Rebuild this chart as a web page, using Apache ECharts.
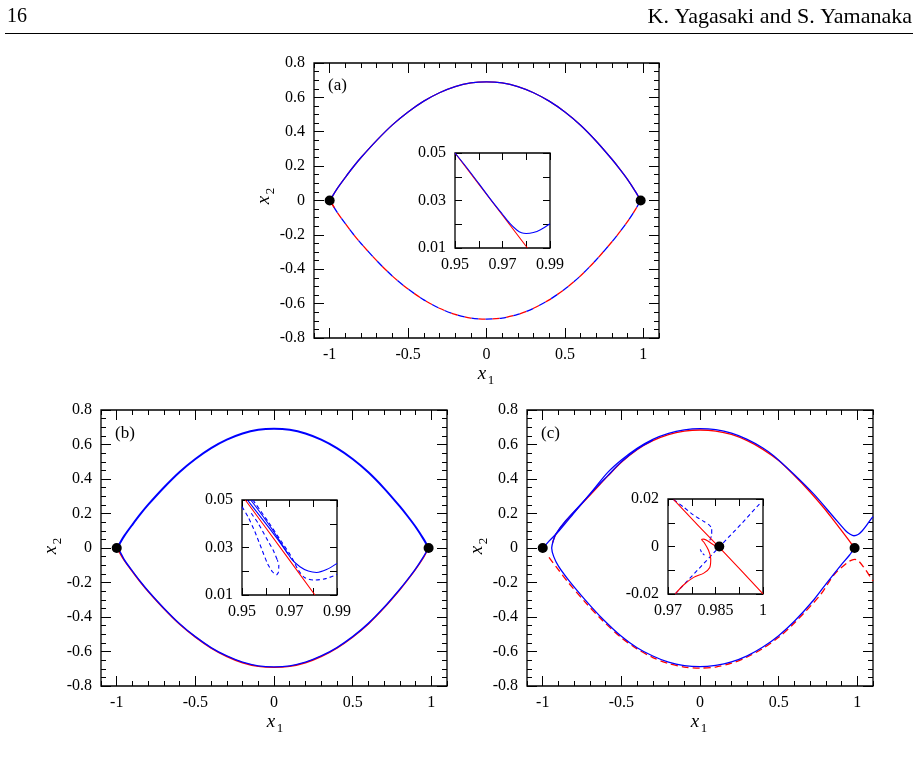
<!DOCTYPE html>
<html>
<head>
<meta charset="utf-8">
<title>manifolds</title>
<script src="https://cdn.jsdelivr.net/npm/echarts@6/dist/echarts.min.js"></script>
<style>
html, body { margin: 0; padding: 0; background: #fff; }
#chart { width: 920px; height: 771px; }
</style>
</head>
<body>
<div id="chart"></div>
<script>
// ---------- values ----------
// panel (a)
const aUpper = [[-0.995,0],[-0.98,0.028],[-0.95,0.072],[-0.9,0.135],[-0.85,0.195],[-0.8,0.25],[-0.7,0.35],[-0.6,0.44],[-0.5,0.515],[-0.4,0.578],[-0.3,0.627],[-0.2,0.663],[-0.1,0.684],[0,0.69],[0.1,0.684],[0.2,0.663],[0.3,0.627],[0.4,0.578],[0.5,0.515],[0.6,0.438],[0.7,0.345],[0.8,0.24],[0.85,0.183],[0.9,0.122],[0.95,0.052],[0.983,0]];
const aLower = [[-0.995,0],[-0.98,-0.028],[-0.95,-0.072],[-0.9,-0.135],[-0.85,-0.195],[-0.8,-0.25],[-0.7,-0.35],[-0.6,-0.44],[-0.5,-0.515],[-0.4,-0.578],[-0.3,-0.627],[-0.2,-0.663],[-0.1,-0.684],[0,-0.69],[0.1,-0.684],[0.2,-0.663],[0.3,-0.627],[0.4,-0.578],[0.5,-0.515],[0.6,-0.438],[0.7,-0.345],[0.8,-0.24],[0.85,-0.183],[0.9,-0.122],[0.95,-0.052],[0.983,0]];
const aRedStub = [[-0.995,0],[-0.985,-0.018],[-0.97,-0.042]];
const aSaddles = [[-1,0],[0.983,0]];
const aInsetRed = [[0.95,0.05],[0.96,0.0369],[0.97,0.0238],[0.9805,0.01]];
const aInsetBlue = [[0.95,0.05],[0.955,0.0438],[0.96,0.0372],[0.965,0.0305],[0.97,0.0242],[0.973,0.0205],[0.976,0.0176],[0.978,0.0164],[0.98,0.0161],[0.983,0.0165],[0.986,0.0177],[0.99,0.0202]];

// panel (b)
const bUpper = [[-0.995,0],[-0.98,0.028],[-0.95,0.073],[-0.9,0.136],[-0.85,0.196],[-0.8,0.251],[-0.7,0.351],[-0.6,0.441],[-0.5,0.516],[-0.4,0.579],[-0.3,0.628],[-0.2,0.664],[-0.1,0.685],[0,0.691],[0.1,0.685],[0.2,0.664],[0.3,0.628],[0.4,0.579],[0.5,0.516],[0.6,0.439],[0.7,0.346],[0.8,0.241],[0.85,0.184],[0.9,0.123],[0.95,0.053],[0.983,0]];
const bLowerRed = [[-0.995,0],[-0.98,-0.03],[-0.95,-0.075],[-0.9,-0.137],[-0.85,-0.197],[-0.8,-0.252],[-0.7,-0.352],[-0.6,-0.442],[-0.5,-0.517],[-0.4,-0.58],[-0.3,-0.629],[-0.2,-0.665],[-0.1,-0.686],[0,-0.692],[0.1,-0.686],[0.2,-0.665],[0.3,-0.629],[0.4,-0.58],[0.5,-0.517],[0.6,-0.44],[0.7,-0.347],[0.8,-0.242],[0.85,-0.185],[0.9,-0.124],[0.95,-0.056],[0.975,-0.015],[0.985,0]];
const bLowerBlue = [[-0.99,0],[-0.975,-0.028],[-0.95,-0.071],[-0.9,-0.134],[-0.85,-0.194],[-0.8,-0.249],[-0.7,-0.349],[-0.6,-0.439],[-0.5,-0.514],[-0.4,-0.577],[-0.3,-0.626],[-0.2,-0.662],[-0.1,-0.683],[0,-0.689],[0.1,-0.683],[0.2,-0.662],[0.3,-0.626],[0.4,-0.577],[0.5,-0.514],[0.6,-0.437],[0.7,-0.344],[0.8,-0.239],[0.85,-0.182],[0.9,-0.121],[0.95,-0.051],[0.983,0]];
const bSaddles = [[-1,0],[0.983,0]];
const bInsetRed = [[0.9514,0.05],[0.96,0.0383],[0.97,0.0247],[0.9807,0.01]];
const bInsetBlue1 = [[0.9537,0.05],[0.9582,0.044],[0.9624,0.0381],[0.9666,0.0317],[0.9708,0.0252],[0.9744,0.0219],[0.9779,0.0201],[0.9814,0.0195],[0.9856,0.0207],[0.99,0.0233]];
const bInsetBlue2 = [[0.9523,0.05],[0.9561,0.0451],[0.961,0.0388],[0.9652,0.0332],[0.9694,0.0272]];
const bInsetDash1 = [[0.95,0.0472],[0.9525,0.043],[0.9554,0.0367],[0.9582,0.0296],[0.9607,0.0233],[0.9628,0.0198],[0.9645,0.0185],[0.9653,0.0195],[0.9655,0.0226],[0.9649,0.0247]];
const bInsetDash2 = [[0.9539,0.0444],[0.9568,0.0402],[0.9603,0.0339],[0.9631,0.0289],[0.9649,0.0247]];
const bInsetDash3 = [[0.9546,0.05],[0.961,0.0409],[0.9666,0.0325],[0.9708,0.0261],[0.9737,0.0205],[0.9765,0.0173],[0.9807,0.0163],[0.9856,0.017],[0.99,0.0187]];

// panel (c)
const cOuterBlue = [[-0.993,0.005],[-0.96,0.04],[-0.896,0.1],[-0.79,0.216],[-0.684,0.331],[-0.588,0.437],[-0.5,0.51],[-0.4,0.578],[-0.3,0.63],[-0.2,0.665],[-0.1,0.685],[0,0.692],[0.1,0.686],[0.2,0.666],[0.3,0.63],[0.4,0.58],[0.47,0.534],[0.597,0.428],[0.724,0.312],[0.852,0.177],[0.926,0.1],[0.955,0.08],[0.979,0.071],[1.005,0.078],[1.032,0.1],[1.06,0.132],[1.085,0.165],[1.1,0.182]];
const cInnerBlue = [[0.983,0],[0.95,-0.042],[0.894,-0.102],[0.809,-0.199],[0.724,-0.3],[0.6,-0.425],[0.5,-0.508],[0.4,-0.574],[0.3,-0.625],[0.2,-0.66],[0.1,-0.68],[0,-0.688],[-0.1,-0.682],[-0.2,-0.662],[-0.3,-0.626],[-0.4,-0.578],[-0.5,-0.512],[-0.62,-0.41],[-0.726,-0.305],[-0.833,-0.189],[-0.9,-0.105],[-0.93,-0.05],[-0.943,0],[-0.932,0.045],[-0.917,0.081],[-0.854,0.158],[-0.747,0.264],[-0.65,0.36],[-0.588,0.418],[-0.5,0.5],[-0.4,0.573],[-0.3,0.625]];
const cRedUpper = [[-0.938,0.03],[-0.917,0.078],[-0.854,0.155],[-0.747,0.26],[-0.65,0.355],[-0.588,0.415],[-0.5,0.497],[-0.4,0.57],[-0.3,0.622],[-0.2,0.657],[-0.1,0.677],[0,0.684],[0.1,0.678],[0.2,0.658],[0.3,0.622],[0.4,0.572],[0.5,0.507],[0.6,0.42],[0.7,0.325],[0.788,0.232],[0.85,0.16],[0.894,0.108],[0.94,0.053],[0.983,0]];
const cRedDashed = [[-0.96,-0.054],[-0.935,-0.085],[-0.907,-0.118],[-0.833,-0.205],[-0.726,-0.318],[-0.62,-0.42],[-0.5,-0.52],[-0.4,-0.585],[-0.3,-0.635],[-0.2,-0.67],[-0.1,-0.69],[0,-0.696],[0.1,-0.69],[0.2,-0.668],[0.3,-0.632],[0.4,-0.582],[0.5,-0.518],[0.6,-0.435],[0.767,-0.27],[0.852,-0.155],[0.936,-0.085],[0.965,-0.07],[0.985,-0.066],[1.005,-0.072],[1.04,-0.11],[1.085,-0.17],[1.1,-0.19]];
const cSaddles = [[-1,0],[0.983,0]];
const cInsetRed = [[0.9718,0.0197],[0.98,0.0082],[0.9862,-0.0004],[0.993,-0.0099],[1.0,-0.0199]];
const cInsetRedCurve = [[0.9723,-0.0199],[0.975,-0.0161],[0.9781,-0.013],[0.9813,-0.0112],[0.9832,-0.0088],[0.9835,-0.0052],[0.9828,-0.0016],[0.9815,0.0015],[0.9806,0.0029],[0.9813,0.0031],[0.9836,0.0014],[0.9861,-0.0008],[0.9871,-0.0018]];
const cInsetBlueDiag = [[0.9723,-0.0199],[0.979,-0.0104],[0.9862,-0.0002],[0.993,0.0093],[0.9995,0.0188]];
const cInsetBlueTop = [[0.9718,0.0197],[0.975,0.0165],[0.978,0.0133],[0.981,0.0108],[0.9828,0.0093],[0.9838,0.0076],[0.9838,0.005],[0.9832,0.0025]];
const cInsetBlueBit = [[0.9802,-0.0012],[0.9806,-0.0025],[0.9815,-0.0036]];
const cInsetSaddle = [[0.9862,0]];

// ---------- tick positions and labels ----------
const mainXLabels = [-1, -0.5, 0, 0.5, 1];
const mainYLabels = [-0.8, -0.6, -0.4, -0.2, 0, 0.2, 0.4, 0.6, 0.8];
const abInsetXTicks = [0.95, 0.96, 0.97, 0.98, 0.99];
const abInsetXLabels = [0.95, 0.97, 0.99];
const abInsetYTicks = [0.01, 0.02, 0.03, 0.04, 0.05];
const abInsetYLabels = [0.01, 0.03, 0.05];
const cInsetXTicks = [0.97, 0.9775, 0.985, 0.9925, 1];
const cInsetXLabels = [0.97, 0.985, 1];
const cInsetYTicks = [-0.02, -0.01, 0, 0.01, 0.02];
const cInsetYLabels = [-0.02, 0, 0.02];

const mainXMinor = [];
for (let i = -11; i <= 11; i++) mainXMinor.push(i / 10);
const mainYMinor = [];
for (let i = -16; i <= 16; i++) mainYMinor.push(i / 20);

const FONT = 'Liberation Serif';
const RED = '#ff0000';
const BLUE = '#0000ff';

const grids = [
  { left: 314, top: 63, width: 345, height: 275 },   // (a)
  { left: 455, top: 153, width: 95, height: 95 },    // (a) inset
  { left: 101, top: 410, width: 346, height: 276 },  // (b)
  { left: 242, top: 500, width: 95, height: 95 },    // (b) inset
  { left: 527, top: 410, width: 346, height: 276 },  // (c)
  { left: 668, top: 499, width: 95, height: 95 }     // (c) inset
];

function fmt(v) { return String(+(+v).toFixed(4)); }

// four axes per direction: labelled ticks, minor ticks, mirrored ticks, mirrored minor ticks
function axes(dim, g, min, max, ticks, minor, labels, len, minorLen) {
  const side = dim === 'x' ? ['bottom', 'top'] : ['left', 'right'];
  const mk = (pos, tv, tl, lab) => ({
    type: 'value', gridIndex: g, position: pos, min: min, max: max,
    axisLine: { show: false, onZero: false },
    splitLine: { show: false },
    axisTick: { show: tv.length > 0, inside: true, length: tl, customValues: tv,
      lineStyle: { color: '#000', width: 1 } },
    axisLabel: lab ? { show: true, customValues: lab, formatter: fmt, color: '#000',
      fontFamily: FONT, fontSize: 16, margin: dim === 'x' ? 9 : 9 } : { show: false }
  });
  return [
    mk(side[0], ticks, len, labels),
    mk(side[0], minor, minorLen, null),
    mk(side[1], ticks, len, null),
    mk(side[1], minor, minorLen, null)
  ];
}

let xAxes = [], yAxes = [];
[0, 2, 4].forEach(g => {
  xAxes = xAxes.concat(axes('x', g, -1.1, 1.1, mainXLabels, mainXMinor, mainXLabels, 10, 5));
  yAxes = yAxes.concat(axes('y', g, -0.8, 0.8, mainYLabels, mainYMinor, mainYLabels, 10, 5));
  if (g < 4) {
    xAxes = xAxes.concat(axes('x', g + 1, 0.95, 0.99, abInsetXTicks, [], abInsetXLabels, 7, 0));
    yAxes = yAxes.concat(axes('y', g + 1, 0.01, 0.05, abInsetYTicks, [], abInsetYLabels, 7, 0));
  } else {
    xAxes = xAxes.concat(axes('x', g + 1, 0.97, 1, cInsetXTicks, [], cInsetXLabels, 7, 0));
    yAxes = yAxes.concat(axes('y', g + 1, -0.02, 0.02, cInsetYTicks, [], cInsetYLabels, 7, 0));
  }
});

function line(g, data, color, width, dash, offset, smooth) {
  return {
    type: 'line', xAxisIndex: g * 4, yAxisIndex: g * 4, data: data,
    showSymbol: false, symbol: 'none', silent: true, clip: true,
    smooth: smooth === undefined ? 0.3 : smooth,
    lineStyle: { color: color, width: width, type: dash || 'solid', dashOffset: offset || 0 }
  };
}
function dots(g, data, size) {
  return {
    type: 'scatter', xAxisIndex: g * 4, yAxisIndex: g * 4, data: data, z: 5,
    symbol: 'circle', symbolSize: size, silent: true,
    itemStyle: { color: '#000', opacity: 1 }
  };
}

const series = [
  // (a)
  line(0, aUpper, RED, 1.3),
  line(0, aUpper, BLUE, 1.3),
  line(0, aLower, RED, 1.3, [7, 7], 0),
  line(0, aLower, BLUE, 1.3, [7, 7], 7),
  line(0, aRedStub, RED, 1.3),
  dots(0, aSaddles, 10),
  line(1, aInsetRed, RED, 1.1, 'solid', 0, 0),
  line(1, aInsetBlue, BLUE, 1.1),
  // (b)
  line(2, bLowerRed, RED, 1.4),
  line(2, bLowerBlue, BLUE, 1.4),
  line(2, bUpper, BLUE, 2),
  dots(2, bSaddles, 10),
  line(3, bInsetDash1, BLUE, 1.1, [4, 3], 0, 0.2),
  line(3, bInsetDash2, BLUE, 1.1, [4, 3], 0, 0.2),
  line(3, bInsetDash3, BLUE, 1.1, [4, 3], 0, 0.3),
  line(3, bInsetRed, RED, 1.1, 'solid', 0, 0),
  line(3, bInsetBlue2, BLUE, 1.1),
  line(3, bInsetBlue1, BLUE, 1.1),
  // (c)
  line(4, cRedDashed, RED, 1.3, [7, 4]),
  line(4, cRedUpper, RED, 1.3),
  line(4, cInnerBlue, BLUE, 1.3),
  line(4, cOuterBlue, BLUE, 1.3),
  dots(4, cSaddles, 10),
  line(5, cInsetBlueDiag, BLUE, 1.1, [4, 3], 0, 0),
  line(5, cInsetBlueTop, BLUE, 1.1, [4, 3], 0, 0.2),
  line(5, cInsetBlueBit, BLUE, 1.1, [3, 2], 0, 0),
  line(5, cInsetRed, RED, 1.1, 'solid', 0, 0),
  line(5, cInsetRedCurve, RED, 1.1, 'solid', 0, 0.25),
  dots(5, cInsetSaddle, 10)
];

// axis names and panel tags
function xName(cx, cy) {
  return { type: 'group', x: cx, y: cy, silent: true, children: [
    { type: 'text', x: 0, y: 0, style: { text: 'x', font: 'italic 19px "' + FONT + '"', fill: '#000', textAlign: 'center', textVerticalAlign: 'middle' } },
    { type: 'text', x: 9, y: 7, style: { text: '1', font: '13px "' + FONT + '"', fill: '#000', textAlign: 'center', textVerticalAlign: 'middle' } }
  ] };
}
function yName(cx, cy) {
  return { type: 'group', x: cx, y: cy, rotation: Math.PI / 2, silent: true, children: [
    { type: 'text', x: 0, y: 0, style: { text: 'x', font: 'italic 19px "' + FONT + '"', fill: '#000', textAlign: 'center', textVerticalAlign: 'middle' } },
    { type: 'text', x: 9, y: 7, style: { text: '2', font: '13px "' + FONT + '"', fill: '#000', textAlign: 'center', textVerticalAlign: 'middle' } }
  ] };
}
function tag(x, y, t) {
  return { type: 'text', x: x, y: y, silent: true,
    style: { text: t, font: '17px "' + FONT + '"', fill: '#000', textAlign: 'left', textVerticalAlign: 'middle' } };
}

const graphics = [
  { type: 'text', x: 7, y: 27, style: { text: '16', font: '20px "' + FONT + '"', fill: '#000', textAlign: 'left', textVerticalAlign: 'bottom' } },
  { type: 'text', x: 912, y: 28, style: { text: 'K. Yagasaki and S. Yamanaka', font: '22px "' + FONT + '"', fill: '#000', textAlign: 'right', textVerticalAlign: 'bottom' } },
  { type: 'line', shape: { x1: 5, y1: 33.5, x2: 913, y2: 33.5 }, style: { stroke: '#000', lineWidth: 1 } },
  tag(328, 86, '(a)'), tag(115, 434, '(b)'), tag(541, 434, '(c)'),
  xName(482, 374), yName(264, 200),
  xName(271, 722), yName(51, 550),
  xName(695, 722), yName(477, 550)
];

const chart = echarts.init(document.getElementById('chart'), null, { renderer: 'canvas' });
chart.setOption({
  animation: false,
  backgroundColor: '#fff',
  textStyle: { fontFamily: FONT },
  grid: grids.map(g => Object.assign({ show: true, borderColor: '#000', borderWidth: 1.3,
    backgroundColor: 'transparent', containLabel: false, outerBoundsMode: 'none' }, g)),
  xAxis: xAxes,
  yAxis: yAxes,
  series: series,
  graphic: graphics
});
</script>
</body>
</html>
